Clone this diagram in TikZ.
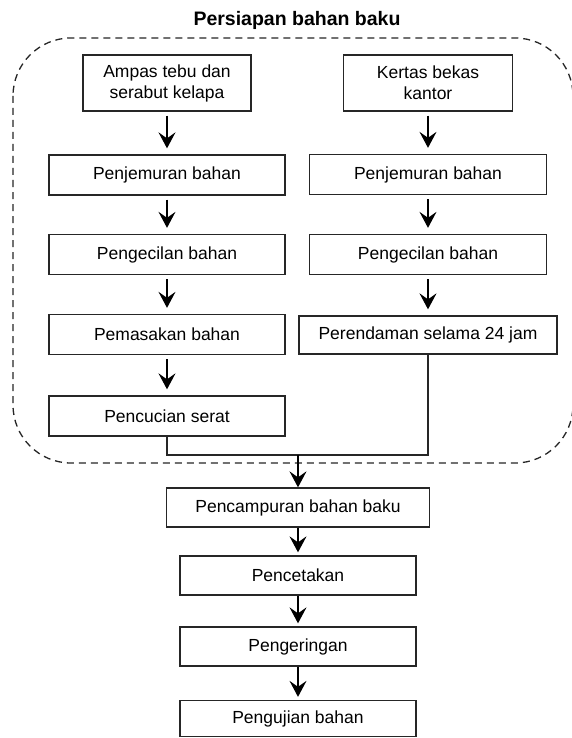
\documentclass[tikz,border=0pt]{standalone}
\usepackage{fontspec}
\setmainfont{Liberation Sans}
\usetikzlibrary{arrows.meta}
\begin{document}
\begin{tikzpicture}[x=1pt,y=-1pt,
  box/.style={draw=black!85, line width=1.3pt, rectangle, inner sep=0pt, align=center,
    font=\fontsize{17.5}{21}\selectfont},
  flow/.style={draw=black, line width=1.3pt, -{Stealth[length=16pt,width=17pt,inset=6pt]}},
  link/.style={draw=black!85, line width=1.3pt},
  group/.style={draw=black!85, line width=1.3pt, dash pattern=on 7pt off 5pt, rounded corners=58pt}]
\useasboundingbox (0,0) rectangle (571,738);
\fill[white] (0,0) rectangle (571,738);
% group
\draw[group] (13,38) rectangle (573,463);
\node[font=\bfseries\fontsize{19.5}{23}\selectfont] (title) at (297,20) {Persiapan bahan baku};
% left column
\node[box, minimum width=168pt, minimum height=56pt] (a1) at (167,83) {Ampas tebu dan\\serabut kelapa};
\node[box, minimum width=236pt, minimum height=40pt] (a2) at (167,175) {Penjemuran bahan};
\node[box, minimum width=236pt, minimum height=40pt] (a3) at (167,254.5) {Pengecilan bahan};
\node[box, minimum width=236pt, minimum height=40pt] (a4) at (167,334.5) {Pemasakan bahan};
\node[box, minimum width=236pt, minimum height=40pt] (a5) at (167,416) {Pencucian serat};
% right column
\node[box, minimum width=169pt, minimum height=56pt] (b1) at (428,83) {Kertas bekas\\kantor};
\node[box, minimum width=237pt, minimum height=40pt] (b2) at (428,174.5) {Penjemuran bahan};
\node[box, minimum width=237pt, minimum height=40pt] (b3) at (428,254.5) {Pengecilan bahan};
\node[box, minimum width=258pt, minimum height=38pt] (b4) at (428,335) {Perendaman selama 24 jam};
% bottom
\node[box, minimum width=263pt, minimum height=39pt] (c1) at (298,507.5) {Pencampuran bahan baku};
\node[box, minimum width=236pt, minimum height=39pt] (c2) at (298,575.5) {Pencetakan};
\node[box, minimum width=236pt, minimum height=39pt] (c3) at (298,646.5) {Pengeringan};
\node[box, minimum width=236pt, minimum height=36pt] (c4) at (298,718.5) {Pengujian bahan};
% arrows left
\draw[flow, shorten <=4pt, shorten >=6pt] (a1) -- (a2);
\draw[flow, shorten <=4pt, shorten >=6pt] (a2) -- (a3);
\draw[flow, shorten <=4pt, shorten >=6pt] (a3) -- (a4);
\draw[flow, shorten <=4pt, shorten >=6pt] (a4) -- (a5);
% arrows right
\draw[flow, shorten <=4pt, shorten >=6pt] (b1) -- (b2);
\draw[flow, shorten <=4pt, shorten >=6pt] (b2) -- (b3);
\draw[flow, shorten <=4pt, shorten >=6pt] (b3) -- (b4);
% merge
\coordinate (j) at (298,455);
\draw[link] (a5.south) |- (j) -| (b4.south);
\draw[flow] (j) -- (c1.north);
\draw[flow, shorten >=3pt] (c1) -- (c2);
\draw[flow, shorten >=3pt] (c2) -- (c3);
\draw[flow, shorten >=3pt] (c3) -- (c4);
\end{tikzpicture}
\end{document}
